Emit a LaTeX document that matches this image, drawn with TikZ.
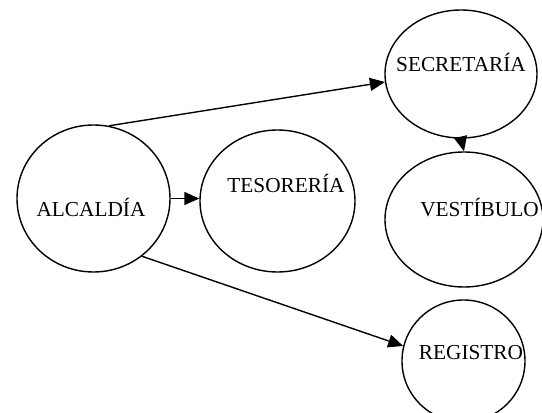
\documentclass[tikz,border=0pt]{standalone}
\usepackage{fontspec}
\setmainfont{Liberation Serif}
\usetikzlibrary{shapes.geometric,arrows.meta}
\begin{document}
\begin{tikzpicture}[x=1pt,y=1pt,>={Triangle[length=15pt,width=13pt]},
    oficina/.style={draw,ellipse,line width=1.4pt,inner sep=0pt},
    rotulo/.style={anchor=base,inner sep=0pt,font=\fontsize{21.3}{25}\selectfont}]
\useasboundingbox (0,0) rectangle (542,413);
    \node[oficina,minimum width=153,minimum height=147](alc) at (93.5,214.5){};
    \node[oficina,minimum width=155,minimum height=142](tes) at (277.5,212){};
    \node[oficina,minimum width=152,minimum height=128](sec) at (461,339){};
    \node[oficina,minimum width=158,minimum height=135](ves) at (464,193.5){};
    \node[oficina,minimum width=123,minimum height=122](reg) at (463.5,52){};
\node[rotulo](talc) at (91,196){ALCALDÍA};
\node[rotulo](ttes) at (286,220){TESORERÍA};
\node[rotulo](tsec) at (461,341){SECRETARÍA};
\node[rotulo](tves) at (479.5,196){VESTÍBULO};
\node[rotulo](treg) at (471,53){REGISTRO};
    \draw[->,line width=1.4pt](alc.78)--(sec.186);
    \draw[->,line width=1.4pt](alc.east)--(tes.west|-alc.east);
    \draw[->,line width=1.4pt](sec.south)--(ves.north);
    \draw[->,line width=1.4pt](alc.-50)--(reg.166);
\end{tikzpicture}
\end{document}
